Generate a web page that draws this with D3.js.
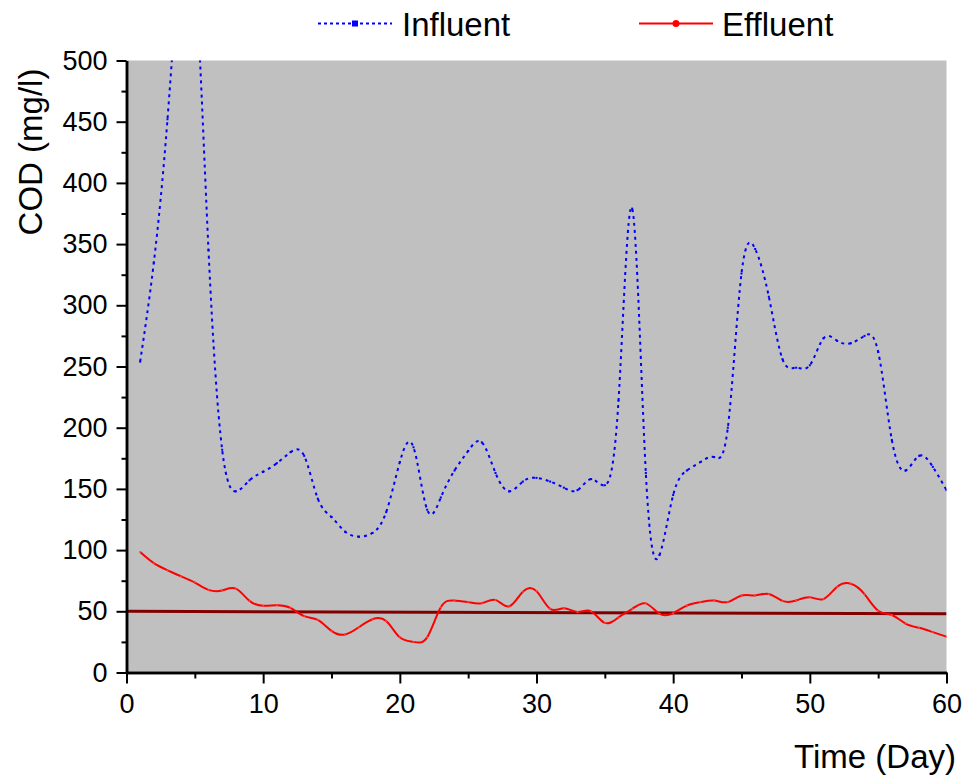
<!DOCTYPE html>
<html lang="en">
<head>
    <meta charset="UTF-8">
    <title>COD</title>
    <script src="https://cdn.jsdelivr.net/npm/d3@7/dist/d3.min.js"></script>
    <style>
        body { margin: 0; background: #fff; }
        text { font-family: "Liberation Sans", Arial, sans-serif; fill: #000; }
    </style>
</head>
<body>
<script>
    var width = 963;
    var height = 776;

    // data
    var days = d3.range(1, 61);
    var influent = [254, 335, 452, 590, 575, 345, 182, 148, 157, 164,
                    171, 180, 177, 142, 127, 115, 111, 114, 131, 172,
                    184, 133, 143, 165, 181, 188, 163, 148, 156, 159,
                    156, 151, 149, 158, 153, 222, 379, 163, 96, 145,
                    165, 172, 176, 200, 326, 346, 307, 256, 249, 251,
                    273, 271, 269, 275, 262, 190, 165, 177, 168, 149];
    var effluent = [98.4, 89.3, 83.5, 78.5, 73.5, 67.5, 67, 68.5, 58.5, 54.5,
                    55, 52.8, 46, 43, 34, 31, 37, 43.5, 42, 28.7,
                    25, 28.7, 53.3, 58.8, 57.5, 56.6, 59.3, 54, 66, 66.5,
                    52, 52.5, 49.5, 50, 40.5, 45, 52, 56.5, 48, 48.5,
                    54.7, 57.5, 58.8, 57.5, 62.9, 63, 64.2, 58.5, 58.8, 61.5,
                    60, 70, 72.5, 64, 50.5, 47, 40, 36.5, 33, 29.3];
    var limitDays = [0, 60];
    var limitValues = [50, 48];
    var xTicks = [0, 10, 20, 30, 40, 50, 60];
    var xMinor = [5, 15, 25, 35, 45, 55];
    var yTicks = [0, 50, 100, 150, 200, 250, 300, 350, 400, 450, 500];
    var yMinor = [25, 75, 125, 175, 225, 275, 325, 375, 425, 475];

    var plotLeft = 126.5, plotRight = 946.5, plotTop = 60.5, plotBottom = 672.5;

    var svg = d3.select("body").append("svg").attr("width", width).attr("height", height);

    var x = d3.scaleLinear().domain([0, 60]).range([plotLeft, plotRight]);
    var y = d3.scaleLinear().domain([0, 500]).range([plotBottom, plotTop]);

    // gray plot area
    svg.append("rect")
        .attr("x", plotLeft).attr("y", plotTop)
        .attr("width", plotRight - plotLeft).attr("height", plotBottom - plotTop)
        .attr("fill", "#c0c0c0");

    svg.append("clipPath").attr("id", "plot")
        .append("rect")
        .attr("x", plotLeft).attr("y", plotTop)
        .attr("width", plotRight - plotLeft).attr("height", plotBottom - plotTop);

    var g = svg.append("g").attr("clip-path", "url(#plot)");

    var line = d3.line()
        .x(function (d) { return x(d[0]); })
        .y(function (d) { return y(d[1]); })
        .curve(d3.curveNatural);

    var inPts = days.map(function (d, i) { return [d, influent[i]]; });
    var effPts = days.map(function (d, i) { return [d, effluent[i]]; });
    var limPts = limitDays.map(function (d, i) { return [d, limitValues[i]]; });

    // 50 mg/l line
    g.append("path")
        .datum(limPts)
        .attr("d", d3.line().x(function (d) { return x(d[0]); }).y(function (d) { return y(d[1]); }))
        .attr("fill", "none")
        .attr("stroke", "#800000")
        .attr("stroke-width", 3);

    g.append("path")
        .datum(inPts)
        .attr("d", line)
        .attr("fill", "none")
        .attr("stroke", "#0000ff")
        .attr("stroke-width", 2)
        .attr("stroke-dasharray", "3,4");

    g.selectAll("rect.in")
        .data(inPts)
        .enter()
        .append("rect")
        .attr("class", "in")
        .attr("x", function (d) { return x(d[0]) - 1; })
        .attr("y", function (d) { return y(d[1]) - 1; })
        .attr("width", 2).attr("height", 2)
        .attr("fill", "#0000ff");

    g.append("path")
        .datum(effPts)
        .attr("d", line)
        .attr("fill", "none")
        .attr("stroke", "#ff0000")
        .attr("stroke-width", 2);

    g.selectAll("circle.eff")
        .data(effPts)
        .enter()
        .append("circle")
        .attr("class", "eff")
        .attr("cx", function (d) { return x(d[0]); })
        .attr("cy", function (d) { return y(d[1]); })
        .attr("r", 1)
        .attr("fill", "#ff4040");

    // axes
    var xAxis = d3.axisBottom(x).tickValues(xTicks).tickSize(11).tickSizeOuter(0).tickPadding(10);
    var xAxisMinor = d3.axisBottom(x).tickValues(xMinor).tickSize(6).tickSizeOuter(0).tickFormat("");
    var yAxis = d3.axisLeft(y).tickValues(yTicks).tickSize(10).tickSizeOuter(0).tickPadding(9);
    var yAxisMinor = d3.axisLeft(y).tickValues(yMinor).tickSize(5).tickSizeOuter(0).tickFormat("");

    function styleAxis(sel) {
        sel.attr("font-size", 27).attr("font-family", "'Liberation Sans', Arial, sans-serif");
        sel.select(".domain").attr("stroke", "#000").attr("stroke-width", 2.5);
        sel.selectAll(".tick line").attr("stroke", "#000").attr("stroke-width", 2);
        sel.selectAll(".tick text").attr("fill", "#000");
    }

    svg.append("g").attr("transform", "translate(0," + plotBottom + ")").call(xAxisMinor).call(styleAxis);
    svg.append("g").attr("transform", "translate(0," + plotBottom + ")").call(xAxis).call(styleAxis);
    svg.append("g").attr("transform", "translate(" + plotLeft + ",0)").call(yAxisMinor).call(styleAxis);
    svg.append("g").attr("transform", "translate(" + plotLeft + ",0)").call(yAxis).call(styleAxis);

    // axis titles
    svg.append("text")
        .attr("x", 956).attr("y", 768)
        .attr("text-anchor", "end")
        .style("font-size", "33px")
        .text("Time (Day)");

    svg.append("text")
        .attr("transform", "translate(42,152) rotate(-90)")
        .attr("text-anchor", "middle")
        .style("font-size", "33px")
        .text("COD (mg/l)");

    // legend
    var legend = svg.append("g");
    legend.append("line")
        .attr("x1", 318).attr("x2", 392).attr("y1", 23.5).attr("y2", 23.5)
        .attr("stroke", "#0000ff").attr("stroke-width", 2).attr("stroke-dasharray", "3,3");
    legend.append("rect")
        .attr("x", 352).attr("y", 20.5).attr("width", 6).attr("height", 6)
        .attr("fill", "#0000ff");
    legend.append("text")
        .attr("x", 402).attr("y", 35.5)
        .style("font-size", "33px")
        .text("Influent");

    legend.append("line")
        .attr("x1", 639).attr("x2", 713).attr("y1", 23.5).attr("y2", 23.5)
        .attr("stroke", "#ff0000").attr("stroke-width", 2);
    legend.append("circle")
        .attr("cx", 676).attr("cy", 23.5).attr("r", 3.5)
        .attr("fill", "#ff0000");
    legend.append("text")
        .attr("x", 722).attr("y", 35.5)
        .style("font-size", "33px")
        .text("Effluent");
</script>
</body>
</html>
